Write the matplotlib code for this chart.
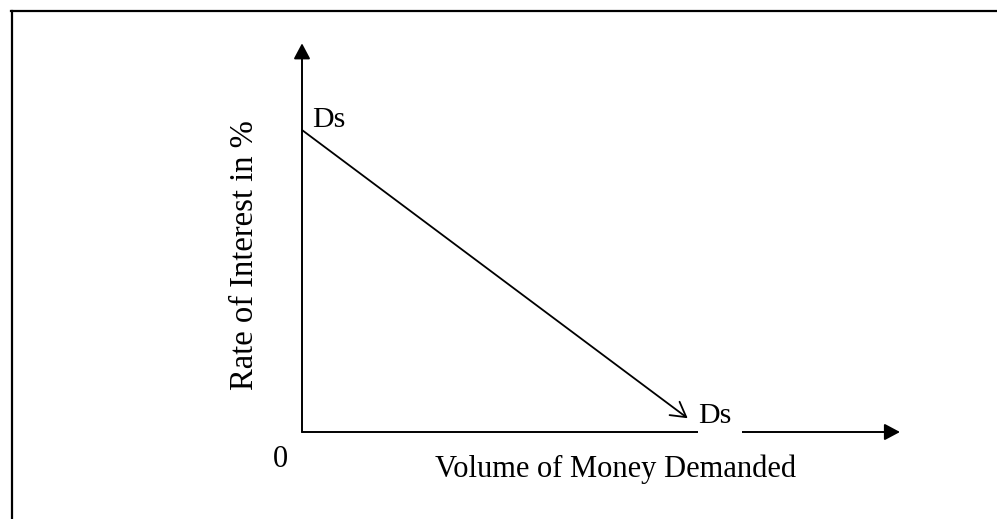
import matplotlib.pyplot as plt
from matplotlib.lines import Line2D
from matplotlib.patches import Rectangle

# demand curve (x: volume of money demanded, y: rate of interest)
money_demanded = [0.0, 6.45]
interest_rate = [5.05, 0.23]

# axis extents
x_axis_end = 10.0
y_axis_end = 6.5

W, H = 997, 519
PX = 59.8  # pixels per data unit
OX, OY = 302, 432  # origin in pixels (from top-left)

plt.rcParams['font.family'] = ['Liberation Serif', 'DejaVu Serif']

fig = plt.figure(figsize=(W / 100, H / 100), dpi=100)
ax = fig.add_axes([0, 0, 1, 1])
ax.set_xlim(-OX / PX, (W - OX) / PX)
ax.set_ylim(-(H - OY) / PX, OY / PX)
ax.axis('off')


def fpos(x, y):
    # pixel position (from top-left) to figure fraction
    return x / W, 1 - y / H


# frame of the page (top and left only)
fig.add_artist(Line2D([11 / W, 1.0], [1 - 11 / H, 1 - 11 / H], color='black', lw=1.6))
fig.add_artist(Line2D([12 / W, 12 / W], [1 - 11 / H, 0.0], color='black', lw=1.6))

# axes with arrow heads
ax.annotate('', xy=(x_axis_end, 0), xytext=(0, 0),
            arrowprops=dict(arrowstyle='-|>,head_length=0.47,head_width=0.25',
                            color='black', lw=1.4, mutation_scale=20,
                            shrinkA=0, shrinkB=0))
ax.annotate('', xy=(0, y_axis_end), xytext=(0, 0),
            arrowprops=dict(arrowstyle='-|>,head_length=0.47,head_width=0.25',
                            color='black', lw=1.4, mutation_scale=20,
                            shrinkA=0, shrinkB=0))

# demand curve with open arrow head
ax.annotate('', xy=(money_demanded[1], interest_rate[1]),
            xytext=(money_demanded[0], interest_rate[0]),
            arrowprops=dict(arrowstyle='->,head_length=0.7,head_width=0.4',
                            color='black', lw=1.3, mutation_scale=15,
                            shrinkA=0, shrinkB=0))

# white text box behind the lower label, hiding part of the x axis
fig.add_artist(Rectangle(fpos(698, 436), 44 / W, 40 / H, transform=fig.transFigure,
                         fc='white', ec='none', zorder=4))

fig.text(*fpos(312, 127), 'Ds', fontsize=21.5, va='baseline', ha='left')
fig.text(*fpos(698, 423), 'Ds', fontsize=21.5, va='baseline', ha='left', zorder=5)
fig.text(*fpos(273, 467), '0', fontsize=22, va='baseline', ha='left')
fig.text(*fpos(435, 477), 'Volume of Money Demanded', fontsize=22, va='baseline', ha='left')
fig.text(*fpos(245, 255), 'Rate of Interest in %', fontsize=23.5, va='center', ha='center',
         rotation=90)

fig.savefig('out.png', dpi=100, facecolor='white')
